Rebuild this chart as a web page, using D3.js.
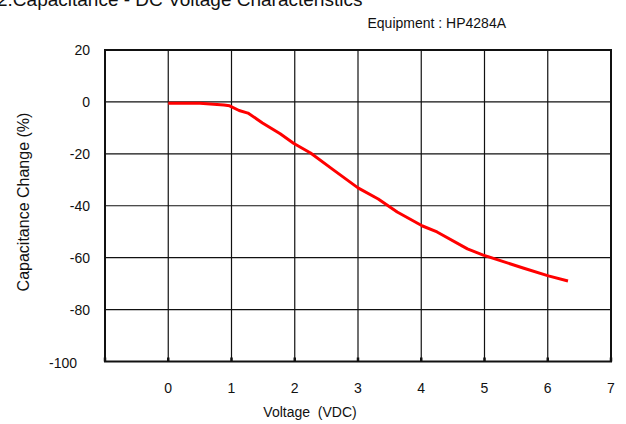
<!DOCTYPE html>
<html>
<head>
<meta charset="utf-8">
<script src="https://cdn.jsdelivr.net/npm/d3@7"></script>
<style>
  body { margin: 0; background: #fff; }
  text { font-family: "Liberation Sans", Arial, sans-serif; fill: #111; }
</style>
</head>
<body>
<div id="chart"></div>
<script>
// data
const voltage = [0, 0.5, 0.88, 0.97, 1.12, 1.26, 1.49, 1.77, 1.98, 2.25, 2.6, 3.0, 3.32, 3.62, 4.02, 4.25, 4.73, 4.98, 5.61, 6.01, 6.32]
const capChange = [-0.5, -0.5, -1.2, -1.5, -3.3, -4.3, -8.1, -12.3, -15.9, -19.7, -26, -33.1, -37.4, -42.4, -47.8, -50.1, -56.6, -59, -64, -67, -69]
const xTicks = [0, 1, 2, 3, 4, 5, 6, 7]
const xGrid = [-1, 0, 1, 2, 3, 4, 5, 6, 7]
const yTicks = [20, 0, -20, -40, -60, -80, -100]

const width = 626, height = 424
const plotLeft = 105, plotRight = 611, plotTop = 50, plotBottom = 361.5

const svg = d3.select('#chart').append('svg')
  .attr('width', width)
  .attr('height', height)

const x = d3.scaleLinear().domain([-1, 7]).range([plotLeft, plotRight])
const y = d3.scaleLinear().domain([-100, 20]).range([plotBottom, plotTop])

// title (cut off at the top in the original)
svg.append('text')
  .attr('x', -3).attr('y', 6)
  .style('font-size', '19px')
  .text('2.Capacitance - DC Voltage Characteristics')

svg.append('text')
  .attr('x', 506).attr('y', 28)
  .attr('text-anchor', 'end')
  .style('font-size', '14px')
  .text('Equipment : HP4284A')

// grid
svg.append('g').selectAll('line')
  .data(xGrid.slice(1, -1))
  .enter().append('line')
  .attr('x1', d => x(d)).attr('x2', d => x(d))
  .attr('y1', plotTop).attr('y2', plotBottom)
  .attr('stroke', '#111').attr('stroke-width', 1.2)

svg.append('g').selectAll('line')
  .data(yTicks.slice(1, -1))
  .enter().append('line')
  .attr('x1', plotLeft).attr('x2', plotRight)
  .attr('y1', d => y(d)).attr('y2', d => y(d))
  .attr('stroke', '#111').attr('stroke-width', 1.2)

// little tick marks on the bottom axis
svg.append('g').selectAll('line')
  .data(xGrid)
  .enter().append('line')
  .attr('x1', d => x(d)).attr('x2', d => x(d))
  .attr('y1', plotBottom - 4).attr('y2', plotBottom)
  .attr('stroke', '#111').attr('stroke-width', 2.5)

// frame
svg.append('rect')
  .attr('x', plotLeft).attr('y', plotTop)
  .attr('width', plotRight - plotLeft).attr('height', plotBottom - plotTop)
  .attr('fill', 'none')
  .attr('stroke', '#111').attr('stroke-width', 2)

// tick labels (the -100 sits further left in the original)
svg.append('g').selectAll('text')
  .data(yTicks)
  .enter().append('text')
  .attr('x', d => d === -100 ? 77 : 90)
  .attr('y', d => y(d) + (d === -100 ? 6 : 5))
  .attr('text-anchor', 'end')
  .style('font-size', '14px')
  .text(d => d)

svg.append('g').selectAll('text')
  .data(xTicks)
  .enter().append('text')
  .attr('x', d => x(d)).attr('y', 393)
  .attr('text-anchor', 'middle')
  .style('font-size', '14px')
  .text(d => d)

// axis titles
svg.append('text')
  .attr('x', 310).attr('y', 417)
  .attr('text-anchor', 'middle')
  .style('font-size', '14px')
  .style('white-space', 'pre')
  .text('Voltage  (VDC)')

svg.append('text')
  .attr('transform', 'translate(29,202) rotate(-90)')
  .attr('text-anchor', 'middle')
  .style('font-size', '16px')
  .text('Capacitance Change (%)')

// curve
const line = d3.line()
  .x(d => x(d[0]))
  .y(d => y(d[1]))

svg.append('path')
  .datum(d3.zip(voltage, capChange))
  .attr('d', line)
  .attr('fill', 'none')
  .attr('stroke', '#ff0000')
  .attr('stroke-width', 3)
  .attr('stroke-linejoin', 'round')
</script>
</body>
</html>
